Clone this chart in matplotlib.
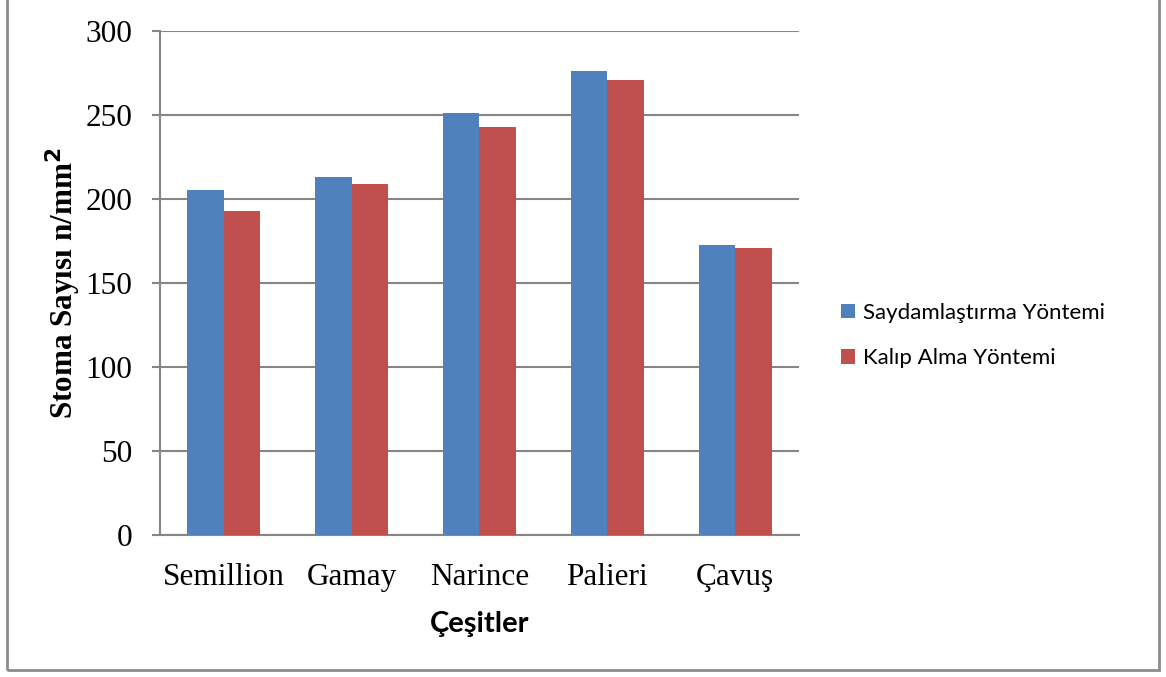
import matplotlib.pyplot as plt
import numpy as np
from matplotlib.patches import Rectangle

cultivars = ["Semillion", "Gamay", "Narince", "Palieri", "Çavuş"]
saydamlastirma = [205.4, 213.2, 251.0, 276.2, 172.6]
kalip_alma = [192.7, 208.8, 243.0, 270.8, 170.7]
y_ticks = [0, 50, 100, 150, 200, 250, 300]

blue = "#4F81BD"
red = "#C0504D"
grid_grey = "#868686"

W, H = 1166, 677
fig = plt.figure(figsize=(W / 100, H / 100), dpi=100)
ax = fig.add_axes([160 / W, 1 - 535 / H, 639 / W, 504 / H])

x = np.arange(len(cultivars))
w = 1 / 3.5
ax.bar(x - w / 2, saydamlastirma, width=w, color=blue, label="Saydamlaştırma Yöntemi", zorder=3)
ax.bar(x + w / 2, kalip_alma, width=w, color=red, label="Kalıp Alma Yöntemi", zorder=3)

ax.set_xlim(-0.5, len(cultivars) - 0.5)
ax.set_ylim(0, 300)
ax.set_yticks(y_ticks)
ax.yaxis.grid(True, color=grid_grey, linewidth=1.5, zorder=0)
ax.set_axisbelow(True)

for s in ["top", "right"]:
    ax.spines[s].set_visible(False)
for s in ["left", "bottom"]:
    ax.spines[s].set_color(grid_grey)
    ax.spines[s].set_linewidth(1.5)

ax.set_xticks(x)
ax.set_xticklabels(cultivars, family="Liberation Serif", fontsize=22.5)
ax.tick_params(axis="x", length=0, pad=20)
ax.tick_params(axis="y", length=5.8, width=1.5, color=grid_grey, pad=14)
for lbl in ax.get_yticklabels():
    lbl.set_family("Liberation Serif")
    lbl.set_fontsize(22.5)

ax.set_ylabel("Stoma Sayısı n/mm$^\\mathbf{2}$", family="Liberation Serif",
              fontsize=22.4, fontweight="bold", labelpad=2)
ax.set_xlabel("Çeşitler", family="Lato", fontsize=21, fontweight="bold", labelpad=14)

fig.legend(handles=ax.get_legend_handles_labels()[0],
           loc="center left", bbox_to_anchor=(841 / W, 1 - 335.5 / H), frameon=False,
           borderpad=0, borderaxespad=0,
           prop={"family": "Lato", "size": 16}, handlelength=0.63, handleheight=0.63,
           handletextpad=0.36, labelspacing=1.15)

# outer chart border
fig.add_artist(Rectangle((7 / W, 1 - 670 / H), 1152 / W, 672 / H,
                         transform=fig.transFigure, fill=False,
                         edgecolor="#8c8c8c", linewidth=2))

fig.savefig("out.png", dpi=100)
